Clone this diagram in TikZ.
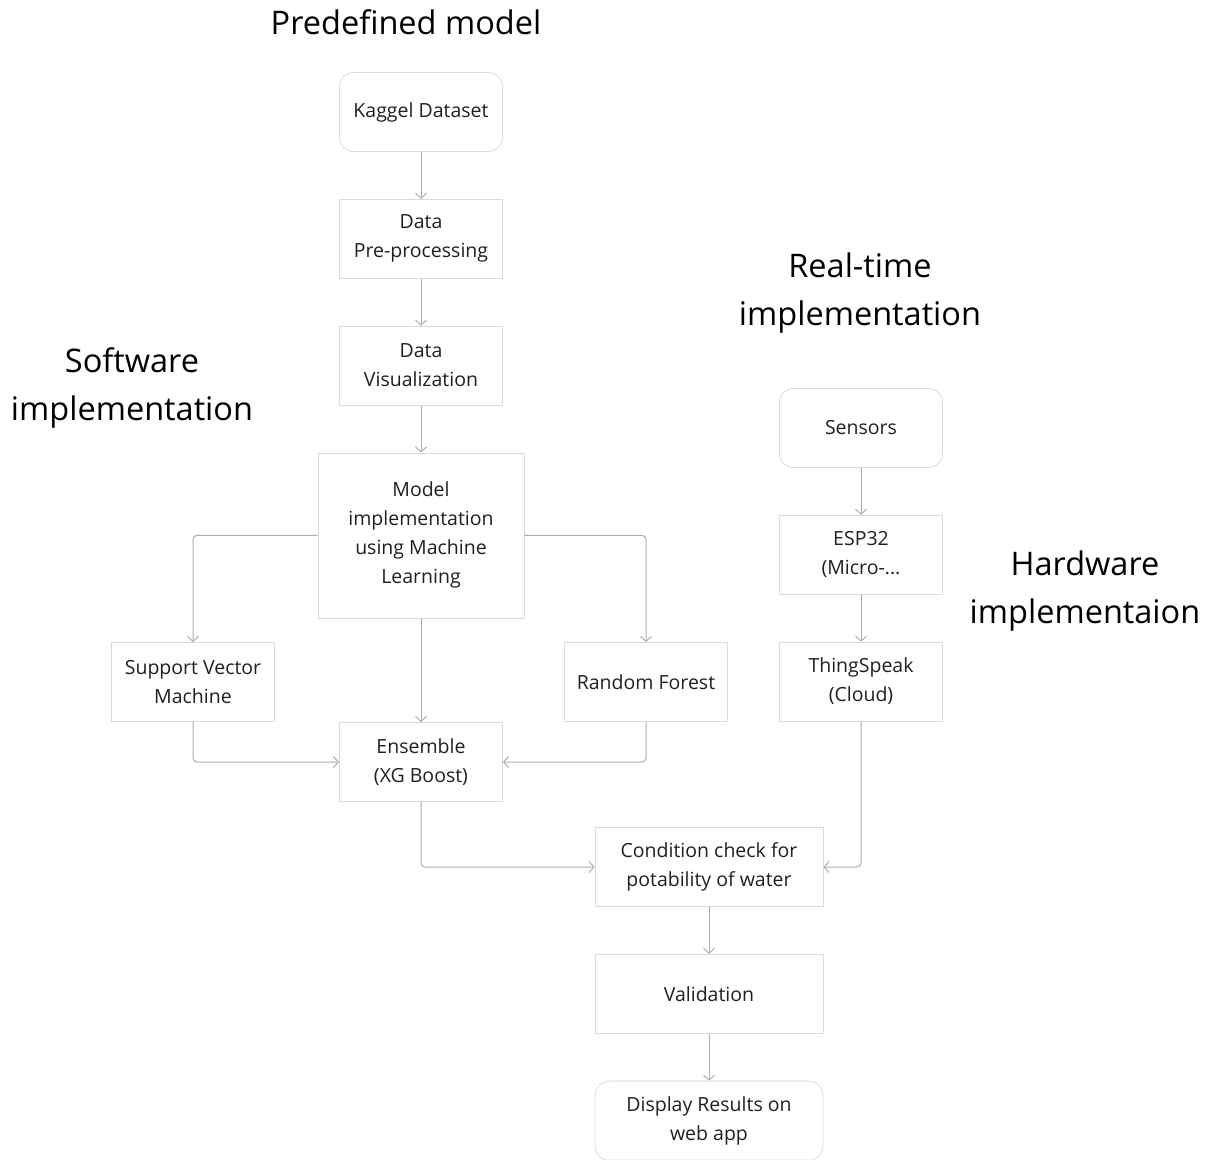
\documentclass[tikz,border=0pt]{standalone}
\usepackage{fontspec}
\setmainfont{Open Sans}
\usetikzlibrary{positioning}
\usetikzlibrary{arrows.meta}

\tikzset{
  box/.style={draw=black!14, line width=0.8pt, minimum width=163pt, minimum height=79pt,
    align=center, inner sep=0pt, text=black!88, font=\fontsize{19.5}{29}\selectfont},
  roundbox/.style={box, rounded corners=14pt},
  title/.style={align=center, text=black, font=\fontsize{32.5}{48}\selectfont},
  flow/.style={-{Straight Barb[length=5pt,width=11pt]}, draw=black!32, line width=1pt, rounded corners=4pt}
}

\begin{document}
\begin{tikzpicture}[x=1pt,y=-1pt]
    \useasboundingbox (0,0) rectangle (1211,1160);

    % headings
    \node[title] (tpre) at (406,22) {Predefined model};
    \node[title] (tsoft) at (132,388) {Software\\implementation};
    \node[title] (treal) at (860,293) {Real-time\\implementation};
    \node[title] (thard) at (1085,591) {Hardware\\implementaion};

    % software side
    \node[roundbox] (kaggle) at (421,112) {Kaggel Dataset};
    \node[box] [below=47pt of kaggle] (prep) {Data\\Pre-processing};
    \node[box] [below=47pt of prep] (visu) {Data\\Visualization};
    \node[box, minimum width=206pt, minimum height=165pt] [below=47pt of visu] (model) {Model\\implementation\\using Machine\\Learning};
    \node[box] (svm) at (193,682) {Support Vector\\Machine};
    \node[box] (rf) at (646,682) {Random Forest};
    \node[box] (ens) at (421,762) {Ensemble\\(XG Boost)};

    % hardware side
    \node[roundbox] (sens) at (861,428) {Sensors};
    \node[box] [below=47pt of sens] (esp) {ESP32\\(Micro-...};
    \node[box] [below=47pt of esp] (thing) {ThingSpeak\\(Cloud)};

    % common part
    \node[box, minimum width=228pt] (cond) at (709,867) {Condition check for\\potability of water};
    \node[box, minimum width=228pt] [below=47pt of cond] (valid) {Validation};
    \node[roundbox, minimum width=228pt] [below=47pt of valid] (disp) {Display Results on\\web app};

    \draw[flow] (kaggle) -- (prep);
    \draw[flow] (prep) -- (visu);
    \draw[flow] (visu) -- (model);
    \draw[flow] (model.west) -| (svm.north);
    \draw[flow] (model.east) -| (rf.north);
    \draw[flow] (model) -- (ens);
    \draw[flow] (svm.south) |- (ens.west);
    \draw[flow] (rf.south) |- (ens.east);
    \draw[flow] (ens.south) |- (cond.west);
    \draw[flow] (sens) -- (esp);
    \draw[flow] (esp) -- (thing);
    \draw[flow] (thing.south) |- (cond.east);
    \draw[flow] (cond) -- (valid);
    \draw[flow] (valid) -- (disp);

  \end{tikzpicture}
\end{document}
